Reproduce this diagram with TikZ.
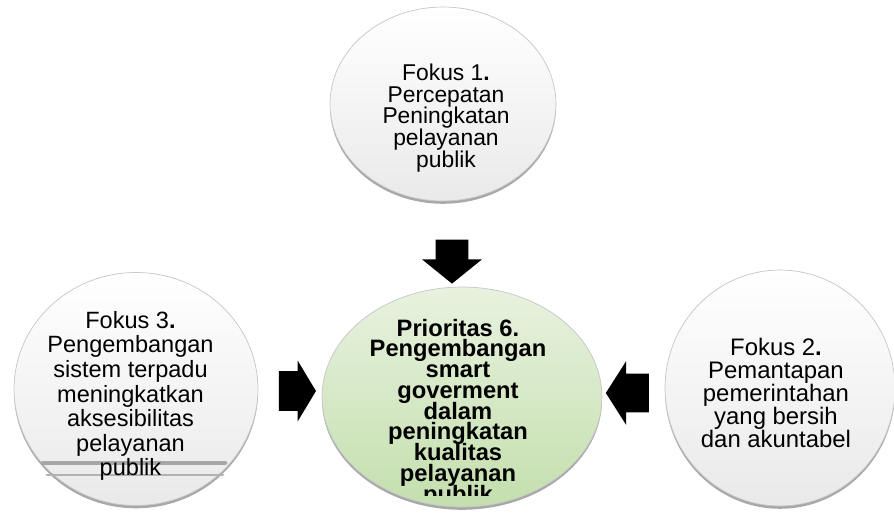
\documentclass[tikz,border=0pt]{standalone}
\usepackage{fontspec}
\setmainfont{Liberation Sans}
\usetikzlibrary{shapes.geometric,shapes.arrows,shadows}
\definecolor{priGreen}{HTML}{C4DFAE}
\definecolor{priLight}{HTML}{E8F2DF}
\tikzset{
  fokus/.style={ellipse, inner sep=0pt, top color=white, bottom color=gray!17, draw=gray!45, line width=0.4pt,
    drop shadow={shadow xshift=0pt, shadow yshift=-1.6pt, fill=gray!75, opacity=0.9}},
  prior/.style={fokus, top color=priLight, bottom color=priGreen},
  ftext/.style={align=center, inner sep=0pt, execute at begin node={\lineskiplimit=-100pt}},
  blok/.style={single arrow, fill=black, inner xsep=0pt},
}
\begin{document}
\begin{tikzpicture}[x=0.02cm, y=-0.02cm, line join=round, line cap=round]
  \useasboundingbox (0,0) rectangle (894,512);
  \clip (0,0) rectangle (894,512);
  \node[fokus, minimum width=4.52cm, minimum height=3.88cm] (f1) at (443,104) {};
  \node[fokus, minimum width=4.6cm, minimum height=4.72cm] (f2) at (780,388) {};
  \node[fokus, minimum width=4.88cm, minimum height=4.66cm] (f3) at (136,389) {};
  \node[prior, minimum width=5.6cm, minimum height=4.4cm] (p6) at (462,397) {};
  \draw[gray!70, line width=2.6pt] (43,463) -- (225,463);
  \draw[gray!60, line width=1.6pt] (47,475) -- (223,475);
  \node[ftext, font=\fontsize{13}{12.4}\selectfont] (t1) at (446,118)
    {Fokus 1\textbf{.}\\Percepatan\\Peningkatan\\pelayanan\\publik};
  \node[ftext, font=\fontsize{13.6}{13.1}\selectfont] (t2) at (776,393)
    {Fokus 2\textbf{.}\\Pemantapan\\pemerintahan\\yang bersih\\dan akuntabel};
  \node[ftext, font=\fontsize{13.4}{14}\selectfont] (t3) at (130.5,396)
    {Fokus 3\textbf{.}\\Pengembangan\\sistem terpadu\\meningkatkan\\aksesibilitas\\pelayanan\\publik};
  \begin{scope}
    \clip (300,280) rectangle (620,495);
    \node[ftext, font=\bfseries\fontsize{13.5}{11.8}\selectfont] (t6) at (458,413)
      {Prioritas 6.\\Pengembangan\\smart\\goverment\\dalam\\peningkatan\\kualitas\\pelayanan\\publik};
  \end{scope}
  \node[blok, rotate=-90, minimum height=0.88cm, inner ysep=0.32cm,
    single arrow head extend=0.27cm, single arrow tip angle=102] (a1) at (452,255) {};
  \node[blok, minimum height=0.74cm, inner ysep=0.39cm,
    single arrow head extend=0.21cm, single arrow tip angle=118] (a3) at (291.5,391) {};
  \node[blok, rotate=180, minimum height=0.86cm, inner ysep=0.38cm,
    single arrow head extend=0.25cm, single arrow tip angle=115] (a2) at (633.5,393) {};
\end{tikzpicture}
\end{document}
